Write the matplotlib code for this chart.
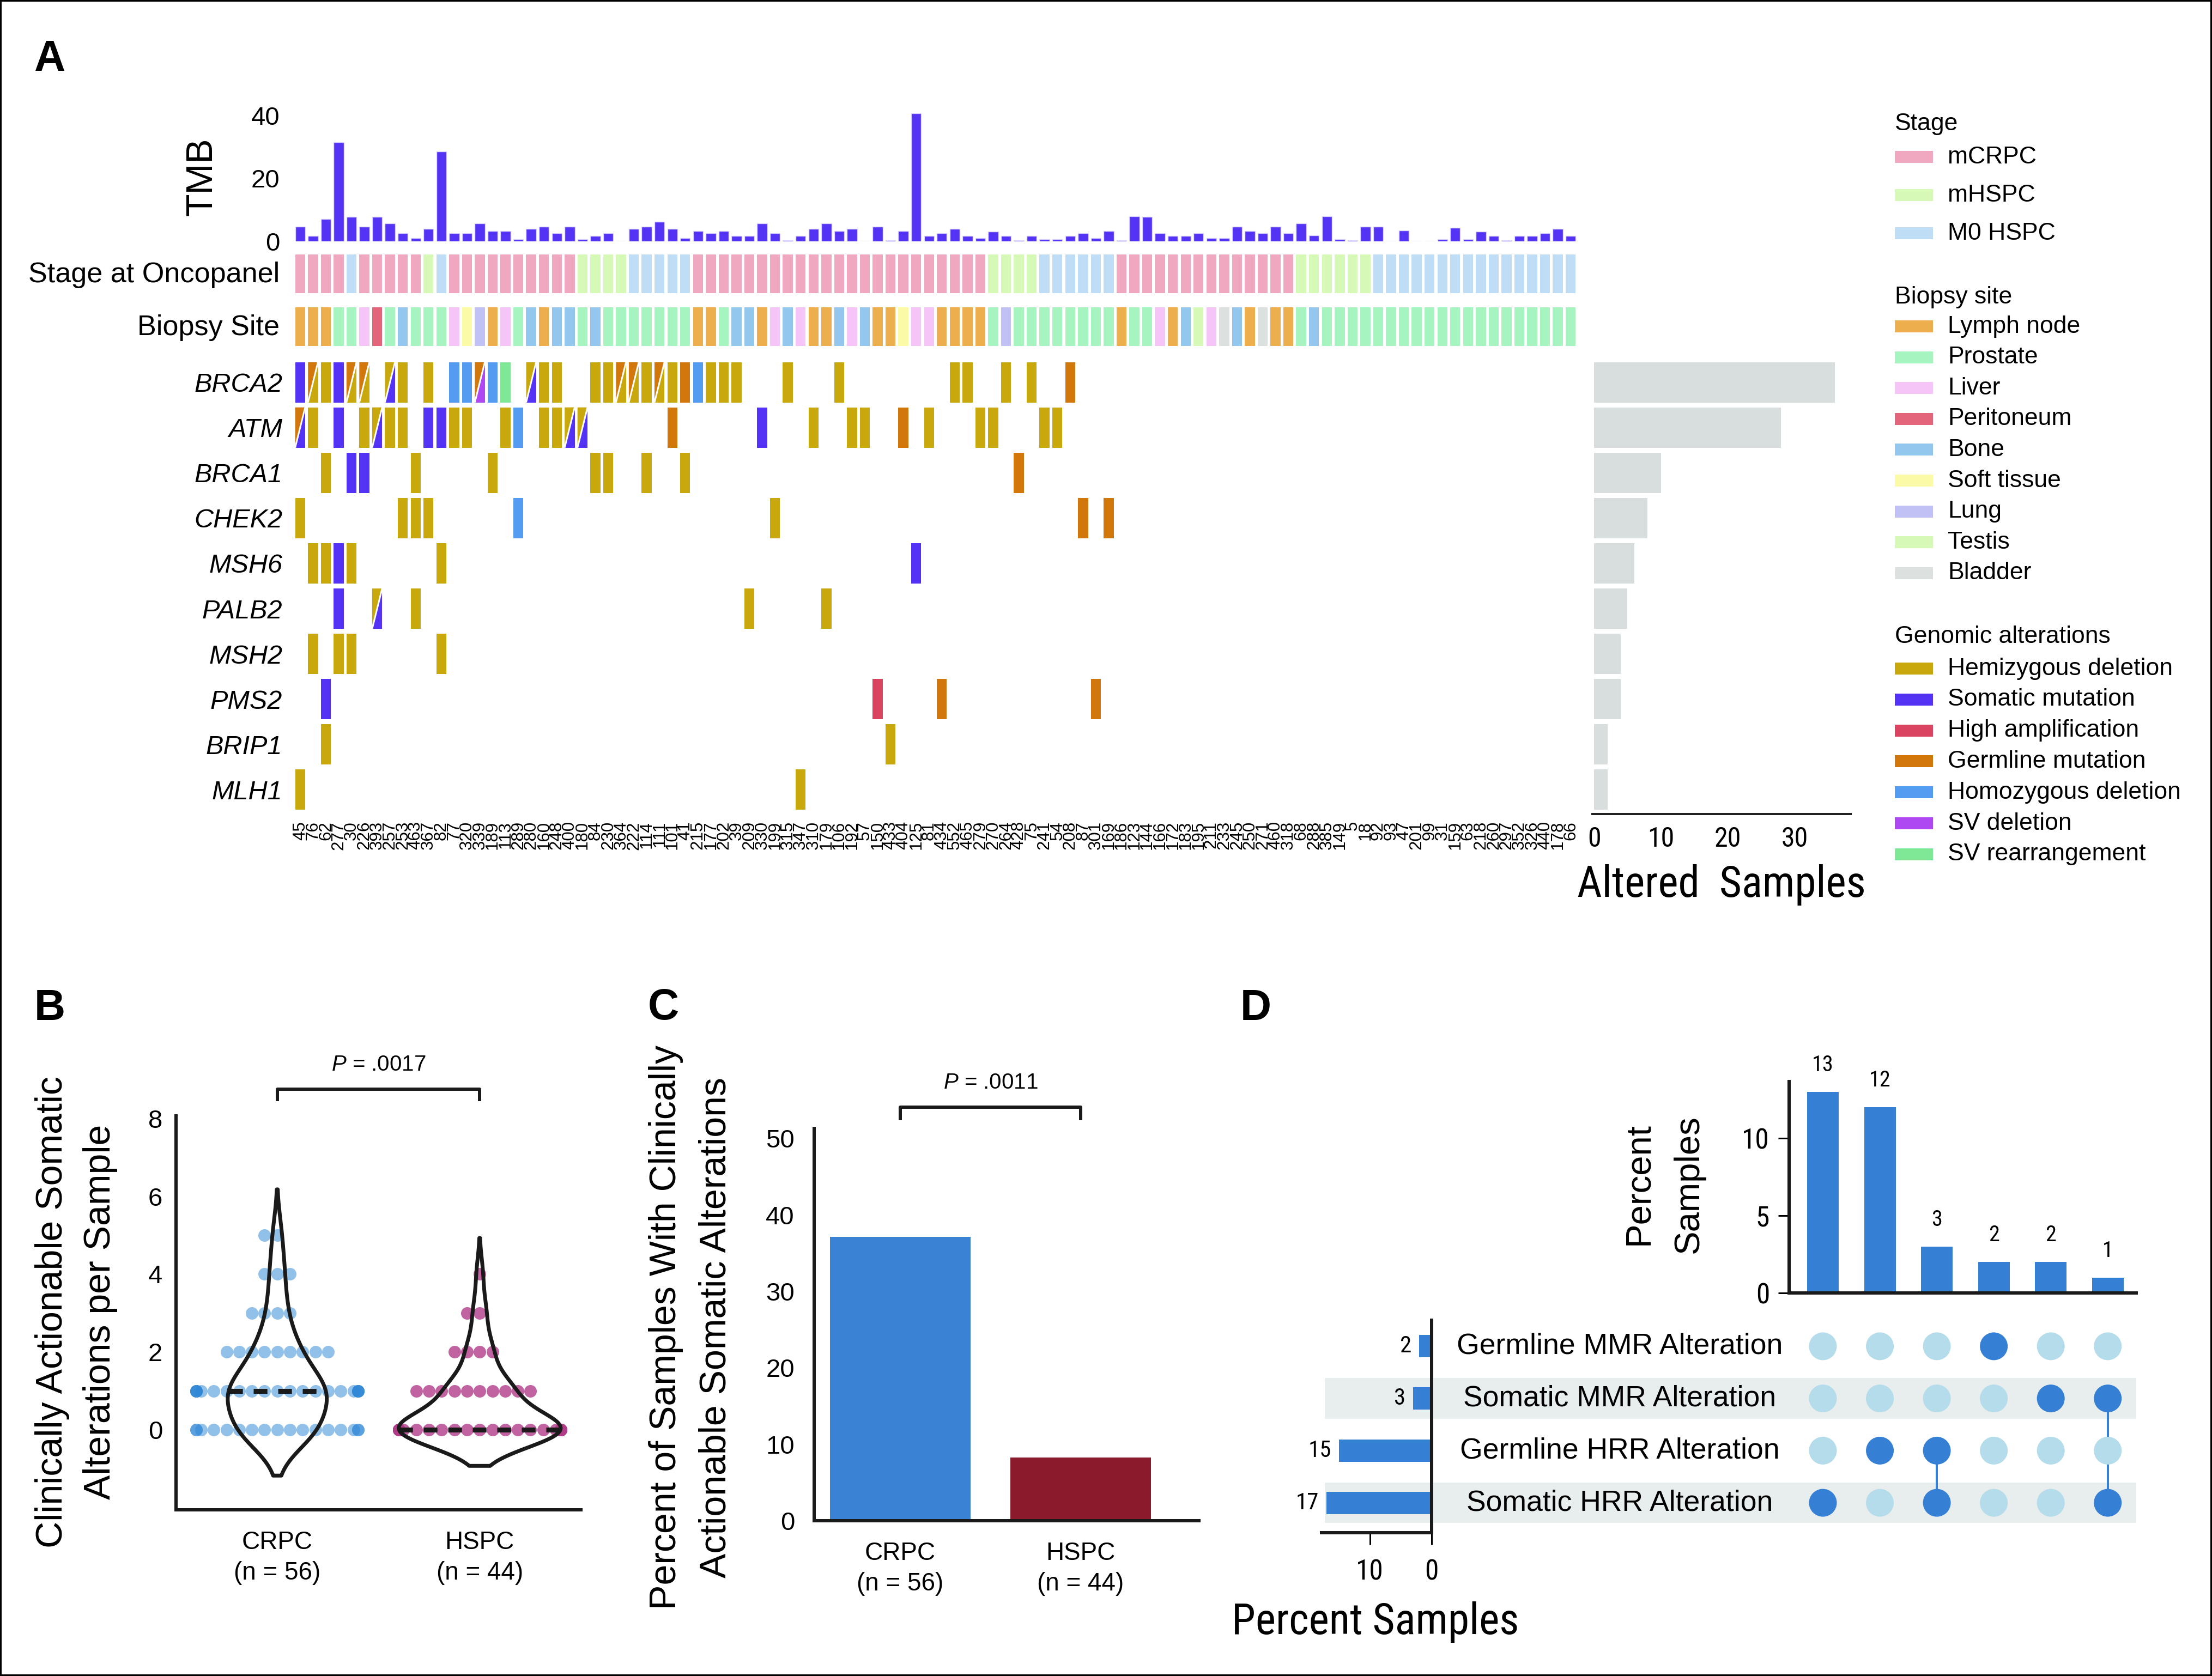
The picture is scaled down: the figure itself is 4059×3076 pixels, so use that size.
import numpy as np
import matplotlib
matplotlib.use("Agg")
import matplotlib.pyplot as plt
import matplotlib.font_manager as fm
from matplotlib.font_manager import FontProperties
from matplotlib.patches import Rectangle, Polygon

SANS = ['Liberation Sans', 'DejaVu Sans']
plt.rcParams['font.family'] = SANS
plt.rcParams['mathtext.fontset'] = 'custom'
plt.rcParams['mathtext.it'] = 'Liberation Sans:italic'
plt.rcParams['mathtext.rm'] = 'Liberation Sans'


def _find_narrow():
    prefs = ['Liberation Sans Narrow', 'Arial Narrow', 'Roboto Condensed',
             'DejaVu Sans Condensed', 'Noto Sans Condensed', 'Open Sans Condensed',
             'Nimbus Sans Narrow']
    ents = fm.fontManager.ttflist
    for p in prefs:
        for e in ents:
            if e.name == p and e.style == 'normal' and e.weight in (400, 'normal', 'regular'):
                return e
    cands = []
    for e in ents:
        tag = (e.name + ' ' + e.fname).lower()
        if e.style != 'normal' or e.weight not in (400, 'normal', 'regular'):
            continue
        if ('narrow' in tag or 'condensed' in tag or
                str(e.stretch) in ('condensed', 'semi-condensed', 'extra-condensed')):
            if 'serif' in tag and 'sans' not in tag:
                continue
            if 'mono' in tag or 'cjk' in tag:
                continue
            cands.append(e)
    return cands[0] if cands else None


_NE = _find_narrow()


def narrow(size):
    if _NE is not None:
        return FontProperties(fname=_NE.fname, size=size)
    return FontProperties(family=SANS, size=size * 0.9)


# ------------------------------------------------------------------ DATA
sample_ids = ['45', '76', '62', '277', '30', '226', '393', '257', '253', '463',
              '367', '82', '77', '320', '339', '189', '113', '289', '280', '160',
              '248', '400', '180', '84', '230', '364', '222', '114', '111', '101',
              '41', '215', '177', '202', '39', '209', '330', '199', '315', '347',
              '310', '179', '106', '192', '57', '150', '433', '404', '125', '81',
              '434', '552', '465', '279', '270', '264', '428', '75', '241', '54',
              '208', '87', '301', '169', '186', '123', '144', '166', '172', '183',
              '195', '211', '233', '245', '250', '271', '460', '318', '68', '288',
              '385', '149', '5', '18', '92', '93', '47', '201', '99', '31',
              '159', '63', '218', '260', '297', '352', '326', '440', '178', '66']

tmb = [4.7, 1.7, 7.1, 31.5, 7.7, 4.7, 7.7, 5.7, 2.6, 1.0,
       3.9, 28.5, 2.6, 2.6, 5.7, 3.3, 3.3, 0.7, 3.9, 4.7,
       2.6, 4.7, 0.7, 1.7, 2.6, 0.0, 3.9, 4.7, 6.3, 4.0,
       1.0, 3.3, 2.6, 3.3, 1.7, 1.7, 5.7, 2.6, 0.4, 1.7,
       3.9, 5.7, 3.3, 3.9, 0.0, 4.7, 0.3, 3.3, 40.6, 1.7,
       2.6, 3.9, 1.7, 1.0, 3.1, 1.7, 0.3, 1.7, 0.7, 0.7,
       1.7, 2.6, 1.0, 3.3, 0.3, 7.9, 7.7, 2.6, 1.7, 1.7,
       2.6, 1.0, 1.0, 4.7, 3.3, 2.6, 4.7, 2.6, 5.7, 1.9,
       7.9, 0.7, 0.3, 4.7, 4.7, 0.0, 3.4, 0.0, 0.0, 0.7,
       4.3, 0.7, 3.1, 1.7, 0.3, 1.7, 1.7, 2.6, 3.9, 1.7]

# C = mCRPC, H = mHSPC, M = M0 HSPC
stage_codes = ("CCCC" "M" "CCCCC" "H" "M" "CCCCCCCCCC" "HHHH" "MMMMM"
               "CCCCCCCCCCCCCCCCCCCCCCC" "HHHH" "MMMMMM" "CCCCCCCCCCCCCC"
               "HHHHHH" "MMMMMMMMMMMMMMMM")
# L lymph node, P prostate, V liver, R peritoneum, B bone, S soft tissue,
# U lung, T testis, D bladder
site_codes = ("LLLPPVRPBP" "PPVSULVPBL" "BBPBPPPPPP" "PLLPBBLVBV" "LLBVBLLSVV"
              "LLLLPUPPPP" "PPPPLPPVLB" "TVDBLDLLPB" "PPPPPPPPPP" "PPPPPPPPPP")

genes = ['BRCA2', 'ATM', 'BRCA1', 'CHEK2', 'MSH6', 'PALB2', 'MSH2', 'PMS2', 'BRIP1', 'MLH1']
# H hemizygous del, S somatic mut, A high amp, G germline mut,
# D homozygous del, V SV deletion, R SV rearrangement; "X/Y" = split cell
alt_BRCA2 = {0: 'S', 1: 'G/H', 2: 'H', 3: 'S', 4: 'G/H', 5: 'G/H', 7: 'H/S', 8: 'H',
             10: 'H', 12: 'D', 13: 'D', 14: 'G/V', 15: 'D', 16: 'R', 18: 'H/S', 19: 'H',
             20: 'H', 23: 'H', 24: 'H', 25: 'G/H', 26: 'G/H', 27: 'H', 28: 'G/H', 29: 'H',
             30: 'G', 31: 'D', 32: 'H', 33: 'H', 34: 'H', 38: 'H', 42: 'H', 51: 'H',
             52: 'H', 55: 'H', 57: 'H', 60: 'G'}
alt_ATM = {0: 'G/S', 1: 'H', 3: 'S', 5: 'H', 6: 'H/S', 7: 'H', 8: 'H', 10: 'S', 11: 'S',
           12: 'H', 13: 'H', 16: 'H', 17: 'D', 19: 'H', 20: 'H', 21: 'H/S', 22: 'H/S',
           29: 'G', 36: 'S', 40: 'H', 43: 'H', 44: 'H', 47: 'G', 49: 'H', 53: 'H',
           54: 'H', 58: 'H', 59: 'H'}
alt_BRCA1 = {2: 'H', 4: 'S', 5: 'S', 9: 'H', 15: 'H', 23: 'H', 24: 'H', 27: 'H', 30: 'H', 56: 'G'}
alt_CHEK2 = {0: 'H', 8: 'H', 9: 'H', 10: 'H', 17: 'D', 37: 'H', 61: 'G', 63: 'G'}
alt_MSH6 = {1: 'H', 2: 'H', 3: 'S', 4: 'H', 11: 'H', 48: 'S'}
alt_PALB2 = {3: 'S', 6: 'H/S', 9: 'H', 35: 'H', 41: 'H'}
alt_MSH2 = {1: 'H', 3: 'H', 4: 'H', 11: 'H'}
alt_PMS2 = {2: 'S', 45: 'A', 50: 'G', 62: 'G'}
alt_BRIP1 = {2: 'H', 46: 'H'}
alt_MLH1 = {0: 'H', 39: 'H'}
alterations = [alt_BRCA2, alt_ATM, alt_BRCA1, alt_CHEK2, alt_MSH6, alt_PALB2,
               alt_MSH2, alt_PMS2, alt_BRIP1, alt_MLH1]

stage_names = {'C': 'mCRPC', 'H': 'mHSPC', 'M': 'M0 HSPC'}
stage_colors = {'mCRPC': '#F0A8C1', 'mHSPC': '#D6F9B8', 'M0 HSPC': '#BFDDF4'}
site_names = {'L': 'Lymph node', 'P': 'Prostate', 'V': 'Liver', 'R': 'Peritoneum',
              'B': 'Bone', 'S': 'Soft tissue', 'U': 'Lung', 'T': 'Testis', 'D': 'Bladder'}
site_colors = {'Lymph node': '#EDAE4E', 'Prostate': '#A6F5C0', 'Liver': '#F5C5F8',
               'Peritoneum': '#E3657B', 'Bone': '#93C7EE', 'Soft tissue': '#FAFAA7',
               'Lung': '#C1C1F5', 'Testis': '#D6F9B8', 'Bladder': '#DCE1DF'}
alt_names = {'H': 'Hemizygous deletion', 'S': 'Somatic mutation', 'A': 'High amplification',
             'G': 'Germline mutation', 'D': 'Homozygous deletion', 'V': 'SV deletion',
             'R': 'SV rearrangement'}
alt_colors = {'Hemizygous deletion': '#C9A80D', 'Somatic mutation': '#5533F5',
              'High amplification': '#DA4460', 'Germline mutation': '#D1770C',
              'Homozygous deletion': '#549CF2', 'SV deletion': '#AD48F2',
              'SV rearrangement': '#7EE897'}

# Panel B: actionable somatic alterations per sample
b_levels = [0, 1, 2, 3, 4, 5]
b_crpc_counts = [17, 21, 9, 4, 3, 2]
b_hspc_counts = [27, 10, 4, 2, 1, 0]
p_b = '.0017'
# Panel C
c_groups = ['CRPC\n(n = 56)', 'HSPC\n(n = 44)']
c_values = [37.1, 8.3]
p_c = '.0011'
# Panel D: upset plot
d_sets = ['Germline MMR Alteration', 'Somatic MMR Alteration',
          'Germline HRR Alteration', 'Somatic HRR Alteration']
d_set_pct = [2, 3, 15, 17]
d_combos = [[3], [2], [2, 3], [0], [1], [1, 3]]
d_combo_pct = [13, 12, 3, 2, 2, 1]

# ------------------------------------------------------------------ FIGURE
W, H = 4059, 3076
fig = plt.figure(figsize=(W / 100, H / 100), dpi=100)


def P(v):
    return v * 0.72


def add_ax(x0, y0, x1, y1, **kw):
    return fig.add_axes([x0 / W, 1 - y1 / H, (x1 - x0) / W, (y1 - y0) / H], **kw)


def ftext(x, y, s, **kw):
    return fig.text(x / W, 1 - y / H, s, **kw)


def clean(ax, keep=()):
    for k, s in ax.spines.items():
        s.set_visible(k in keep)


def narrow_ticks(labels, size):
    for lab in labels:
        lab.set_fontproperties(narrow(size))


for lab, (x, y) in {'A': (91, 109), 'B': (91, 1851), 'C': (1217, 1851), 'D': (2304, 1851)}.items():
    ftext(x, y, lab, fontsize=57, fontweight='bold', ha='center', va='center')

# ---------------- Panel A
ncol = len(sample_ids)
X0, PITCH = 539, 23.55
X1 = X0 + ncol * PITCH
CW = 0.78
xc = np.arange(ncol) + 0.5

ax_t = add_ax(X0, 206, X1, 443)
ax_t.bar(xc, tmb, width=CW, color='#5533F5', edgecolor='#DAD2FA', linewidth=1.0)
ax_t.set_xlim(0, ncol)
ax_t.set_ylim(0, 41)
clean(ax_t)
ax_t.set_xticks([])
ax_t.set_yticks([0, 20, 40])
ax_t.tick_params(axis='y', length=0, pad=P(26), labelsize=34)
ftext(370, 324, 'TMB', rotation=90, fontsize=49, ha='center', va='center')

ax_a = add_ax(X0, 454, X1, 648)
ax_a.bar(xc, 0.742, bottom=-0.371, width=CW,
         color=[stage_colors[stage_names[c]] for c in stage_codes], linewidth=0)
ax_a.bar(xc, 0.742, bottom=1 - 0.371, width=CW,
         color=[site_colors[site_names[c]] for c in site_codes], linewidth=0)
ax_a.set_xlim(0, ncol)
ax_a.set_ylim(1.5, -0.5)
clean(ax_a)
ax_a.set_xticks([])
ax_a.set_yticks([-0.04, 0.96])
ax_a.set_yticklabels(['Stage at Oncopanel', 'Biopsy Site'])
ax_a.tick_params(axis='y', length=0, pad=P(26), labelsize=37.5)

ax_g = add_ax(X0, 660, X1, 1491)
HH = 0.89
for r, alts in enumerate(alterations):
    for i, code in alts.items():
        left, right = i + (1 - CW) / 2, i + (1 + CW) / 2
        top, bot = r - HH / 2, r + HH / 2
        if '/' in code:
            c1, c2 = code.split('/')
            ax_g.add_patch(Polygon([(left, top), (right, top), (left, bot)], closed=True,
                                   facecolor=alt_colors[alt_names[c1]], edgecolor='none'))
            ax_g.add_patch(Polygon([(right, top), (right, bot), (left, bot)], closed=True,
                                   facecolor=alt_colors[alt_names[c2]], edgecolor='none'))
            ax_g.plot([left, right], [bot, top], color='white', lw=P(3), solid_capstyle='butt')
        else:
            ax_g.bar(i + 0.5, HH, bottom=top, width=CW,
                     color=alt_colors[alt_names[code]], linewidth=0)
ax_g.set_xlim(0, ncol)
ax_g.set_ylim(len(genes) - 0.5, -0.5)
clean(ax_g)
ax_g.set_yticks(range(len(genes)))
ax_g.set_yticklabels(genes, fontstyle='italic')
ax_g.tick_params(axis='y', length=0, pad=P(21), labelsize=35)
ax_g.set_xticks(xc)
ax_g.set_xticklabels(sample_ids, rotation=90)
ax_g.tick_params(axis='x', length=0, pad=P(16), labelsize=22.5)

ax_s = add_ax(2922, 660, 3396, 1494)
counts = [len(a) for a in alterations]
ax_s.barh(np.arange(len(genes)), counts, height=HH, color='#D7DEDD')
ax_s.set_ylim(len(genes) - 0.5 + 3 / 83.1, -0.5)
ax_s.set_xlim(-0.25, 38.4)
clean(ax_s, keep=('bottom',))
ax_s.spines['bottom'].set_linewidth(P(4))
ax_s.spines['bottom'].set_color('#222222')
ax_s.set_yticks([])
ax_s.set_xticks([0, 10, 20, 30])
ax_s.tick_params(axis='x', length=0, pad=P(22))
narrow_ticks(ax_s.get_xticklabels(), 36)
ax_s.set_xlabel('Altered  Samples', fontproperties=narrow(57), labelpad=P(22))

LX_P, LX_T = 3477, 3574
leg = [('Stage', 228, [(n, stage_colors[n]) for n in ['mCRPC', 'mHSPC', 'M0 HSPC']], 288, 70),
       ('Biopsy site', 545, [(n, site_colors[n]) for n in site_colors], 599, 56.6),
       ('Genomic alterations', 1168, [(n, alt_colors[n]) for n in alt_colors], 1227, 56.8)]
for title, ty, items, y0, dy in leg:
    ftext(LX_P, ty, title, fontsize=32, ha='left', va='center')
    for k, (name, col) in enumerate(items):
        yy = y0 + k * dy
        fig.add_artist(Rectangle((LX_P / W, 1 - (yy + 11) / H), 70 / W, 22 / H,
                                 transform=fig.transFigure, facecolor=col, edgecolor='none'))
        ftext(LX_T, yy, name, fontsize=32, ha='left', va='center')

# ---------------- Panel B
LW = P(6)
axB = add_ax(323, 2048, 1066, 2771)
axB.set_xlim(-0.5, 1.5)
axB.set_ylim(-2.06, 8.07)
clean(axB, keep=('left', 'bottom'))
for s in ('left', 'bottom'):
    axB.spines[s].set_linewidth(LW)
    axB.spines[s].set_color('#1a1a1a')
axB.set_yticks([0, 2, 4, 6, 8])
axB.tick_params(axis='y', length=0, pad=P(25), labelsize=34)
axB.set_xticks([0, 1])
axB.set_xticklabels(c_groups, linespacing=1.35)
axB.tick_params(axis='x', length=0, pad=P(38), labelsize=33)

crpc = np.repeat(b_levels, b_crpc_counts).astype(float)
hspc = np.repeat(b_levels, b_hspc_counts).astype(float)


def kde(vals):
    bw = np.std(vals, ddof=1) * len(vals) ** (-0.2)
    g = np.linspace(vals.min() - 2 * bw, vals.max() + 2 * bw, 400)
    d = np.exp(-0.5 * ((g[:, None] - vals[None, :]) / bw) ** 2).sum(1) / (len(vals) * bw * np.sqrt(2 * np.pi))
    return g, d


gc, dc = kde(crpc)
gh, dh = kde(hspc)
dmax = max(dc.max(), dh.max())


def swarm(vals, center, spacing=0.0627, half=0.4):
    xs, ys = [], []
    for v in np.unique(vals):
        n = int((vals == v).sum())
        for j in range(n):
            k = 0 if j == 0 else ((j + 1) // 2) * (-1 if j % 2 == 1 else 1)
            xs.append(center + np.clip(k * spacing, -half, half))
            ys.append(v)
    return np.array(xs), np.array(ys)


for pos, vals, g, d, col, alpha in [(0, crpc, gc, dc, '#2C86D6', 0.52),
                                      (1, hspc, gh, dh, '#B13C88', 0.8)]:
    hw = 0.4 * d / dmax
    sx, sy = swarm(vals, pos)
    axB.scatter(sx, sy, s=P(23) ** 2, color=col, alpha=alpha, linewidths=0, zorder=2)
    poly = np.column_stack([np.concatenate([pos - hw, (pos + hw)[::-1]]),
                            np.concatenate([g, g[::-1]])])
    axB.add_patch(Polygon(poly, closed=True, facecolor='none', edgecolor='#1a1a1a',
                          lw=P(7), zorder=3, joinstyle='round'))
    med = np.median(vals)
    mw = np.interp(med, g, hw)
    axB.plot([pos - mw, pos + mw], [med, med], color='#1a1a1a', lw=P(9),
             linestyle=(0, (2.8, 2.2)), zorder=4, solid_capstyle='butt')

axB.plot([0, 0, 1, 1], [8.49, 8.75, 8.75, 8.49], color='#1a1a1a', lw=LW, clip_on=False)
axB.text(0.5, 9.39, r'$P$ = ' + p_b, ha='center', va='center', fontsize=29)
ftext(96, 2408, 'Clinically Actionable Somatic', rotation=90, fontsize=49, ha='center', va='center')
ftext(184, 2408, 'Alterations per Sample', rotation=90, fontsize=49, ha='center', va='center')

# ---------------- Panel C
axC = add_ax(1494, 2071, 2200, 2791)
axC.bar([0, 1], c_values, width=0.78, color=['#3A82D4', '#8B1B2C'])
axC.set_xlim(-0.477, 1.656)
axC.set_ylim(0, 51.3)
clean(axC, keep=('left', 'bottom'))
for s in ('left', 'bottom'):
    axC.spines[s].set_linewidth(LW)
    axC.spines[s].set_color('#1a1a1a')
axC.set_yticks([0, 10, 20, 30, 40, 50])
axC.tick_params(axis='y', length=0, pad=P(36), labelsize=34)
axC.set_xticks([0, 1])
axC.set_xticklabels(c_groups, linespacing=1.35)
axC.tick_params(axis='x', length=0, pad=P(38), labelsize=33)
axC.plot([0, 0, 1, 1], [52.56, 54.06, 54.06, 52.56], color='#1a1a1a', lw=LW, clip_on=False)
axC.text(0.5, 57.3, r'$P$ = ' + p_c, ha='center', va='center', fontsize=29)
ftext(1222, 2436, 'Percent of Samples With Clinically', rotation=90, fontsize=49, ha='center', va='center')
ftext(1313, 2436, 'Actionable Somatic Alterations', rotation=90, fontsize=49, ha='center', va='center')

# ---------------- Panel D
BLUE = '#3580D5'
LIGHT = '#B4DCEA'
axDt = add_ax(3283, 1985, 3920, 2373)
ncomb = len(d_combo_pct)
axDt.bar(range(ncomb), d_combo_pct, width=0.555, color=BLUE)
for j, v in enumerate(d_combo_pct):
    axDt.annotate(str(v), (j, v), xytext=(0, P(30)), textcoords='offset points',
                  ha='center', va='bottom', fontproperties=narrow(29))
axDt.set_xlim(-0.593, 5.5)
axDt.set_ylim(0, 13.67)
clean(axDt, keep=('left', 'bottom'))
for s in ('left', 'bottom'):
    axDt.spines[s].set_linewidth(P(6))
    axDt.spines[s].set_color('#1a1a1a')
axDt.set_xticks([])
axDt.set_yticks([0, 5, 10])
axDt.tick_params(axis='y', length=P(20), width=P(3), pad=P(16))
narrow_ticks(axDt.get_yticklabels(), 37)
ftext(3007, 2173, 'Percent', rotation=90, fontsize=47, ha='center', va='center')
ftext(3099, 2173, 'Samples', rotation=90, fontsize=47, ha='center', va='center')

axDbg = add_ax(2431, 2423, 3920, 2806, zorder=0)
axDbg.set_xlim(0, 1)
axDbg.set_ylim(3.5, -0.5)
axDbg.axis('off')
for r in (1, 3):
    axDbg.axhspan(r - 0.39, r + 0.39, color='#E8EDED', lw=0)
for r, name in enumerate(d_sets):
    axDbg.text((2972 - 2431) / (3920 - 2431), r, name, ha='center', va='center', fontsize=38.5)

axDm = add_ax(3283, 2423, 3920, 2806, zorder=2)
axDm.patch.set_alpha(0)
axDm.set_xlim(-0.593, 5.5)
axDm.set_ylim(3.5, -0.5)
axDm.axis('off')
for j, combo in enumerate(d_combos):
    cols = [BLUE if r in combo else LIGHT for r in range(len(d_sets))]
    if len(combo) > 1:
        axDm.plot([j, j], [min(combo), max(combo)], color=BLUE, lw=P(4), zorder=1)
    axDm.scatter([j] * len(d_sets), range(len(d_sets)), s=P(51) ** 2, c=cols,
                 linewidths=0, zorder=2)

axDl = add_ax(2425, 2423, 2627, 2813, zorder=2)
axDl.patch.set_alpha(0)
axDl.barh(range(len(d_sets)), d_set_pct, height=0.43, color=BLUE)
for r, v in enumerate(d_set_pct):
    axDl.annotate(str(v), (v, r), xytext=(-P(14), 0), textcoords='offset points',
                  ha='right', va='center', fontproperties=narrow(31))
axDl.set_xlim(17.8, 0)
axDl.set_ylim(3.5 + 7 / 95.67, -0.5)
clean(axDl, keep=('right', 'bottom'))
for s in ('right', 'bottom'):
    axDl.spines[s].set_linewidth(P(6))
    axDl.spines[s].set_color('#1a1a1a')
axDl.set_yticks([])
axDl.set_xticks([10, 0])
axDl.tick_params(axis='x', length=P(22), width=P(3), pad=P(26))
narrow_ticks(axDl.get_xticklabels(), 37)
ftext(2524, 2977, 'Percent Samples', fontproperties=narrow(57), ha='center', va='center')

fig.add_artist(Rectangle((0, 0), 1, 1, transform=fig.transFigure, fill=False,
                         lw=P(6), edgecolor='black'))

fig.savefig('out.png', dpi=100)
